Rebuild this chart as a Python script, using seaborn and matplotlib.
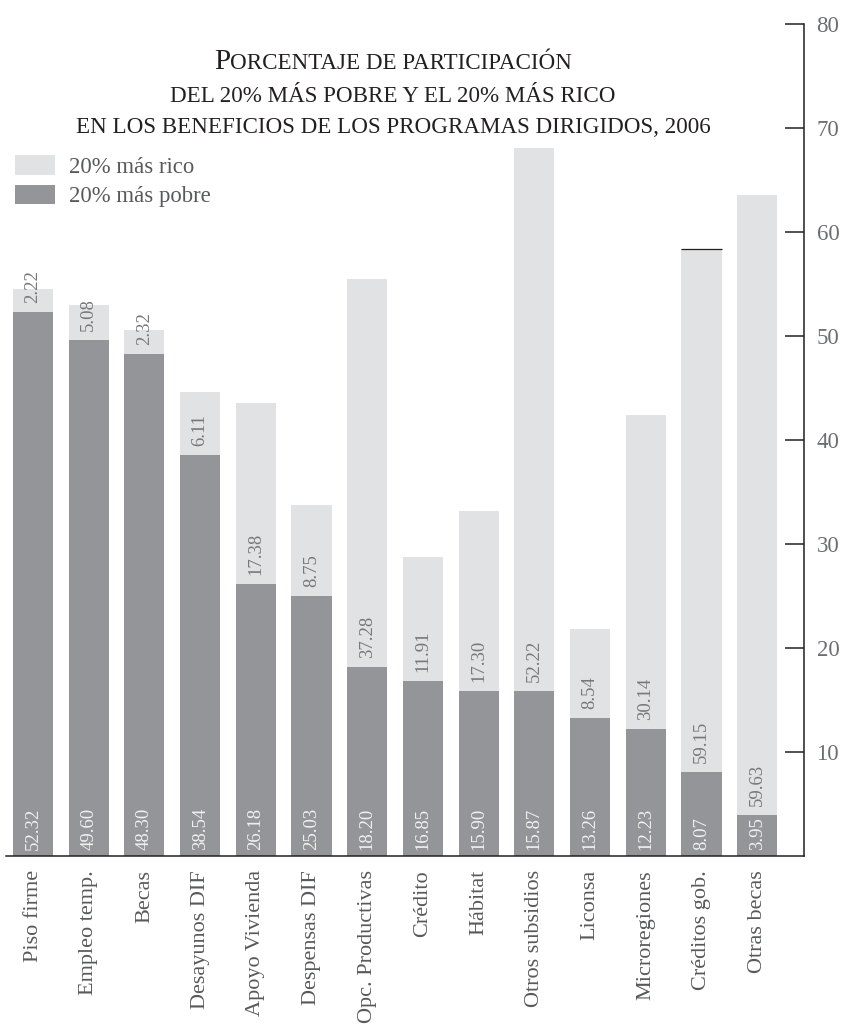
import matplotlib
matplotlib.use("Agg")
import matplotlib.pyplot as plt
import pandas as pd
import seaborn as sns
from matplotlib.patches import Patch

# datos
programas = ["Piso firme", "Empleo temp.", "Becas", "Desayunos DIF", "Apoyo Vivienda",
             "Despensas DIF", "Opc. Productivas", "Crédito", "Hábitat", "Otros subsidios",
             "Liconsa", "Microregiones", "Créditos gob.", "Otras becas"]
pobre = [52.32, 49.60, 48.30, 38.54, 26.18, 25.03, 18.20, 16.85, 15.90, 15.87,
         13.26, 12.23, 8.07, 3.95]
rico = [2.22, 5.08, 2.32, 6.11, 17.38, 8.75, 37.28, 11.91, 17.30, 52.22,
        8.54, 30.14, 59.15, 59.63]
# altura dibujada del tramo "rico" (en algunas barras no coincide con la etiqueta)
rico_barra = [2.22, 3.40, 2.32, 6.11, 17.38, 8.75, 37.28, 11.91, 17.30, 52.22,
              8.54, 30.14, 50.30, 59.63]
marcas_y = [10, 20, 30, 40, 50, 60, 70, 80]

titulo = ["Porcentaje de participación",
          "del 20% más pobre y el 20% más rico",
          "en los beneficios de los programas dirigidos, 2006"]
leyenda = ["20% más rico", "20% más pobre"]

oscuro = "#939598"
claro = "#e1e2e3"
negro = "#231f20"
gris_txt = "#58595b"

sns.set_style("white")
plt.rcParams["font.family"] = ["Liberation Serif", "DejaVu Serif"]

W, H = 849, 1026
fig = plt.figure(figsize=(W / 100, H / 100), dpi=100)
ax = fig.add_axes([6 / W, 170 / H, 798 / W, 832 / H])

df = pd.DataFrame({"programa": programas, "pobre": pobre,
                   "total": [p + r for p, r in zip(pobre, rico_barra)]})

sns.barplot(data=df, x="programa", y="total", color=claro, saturation=1,
            width=0.72, linewidth=0, ax=ax)
sns.barplot(data=df, x="programa", y="pobre", color=oscuro, saturation=1,
            width=0.72, linewidth=0, ax=ax)

# filete oscuro sobre la barra de Créditos gob.
i_cg = programas.index("Créditos gob.")
ax.hlines(df["total"][i_cg], i_cg - 0.36, i_cg + 0.36, color=negro, lw=0.9)

# etiquetas dentro de las barras
for i, (p, r) in enumerate(zip(pobre, rico)):
    ax.annotate(f"{p:.2f}", (i, 0), xytext=(0, 4.3), textcoords="offset points",
                rotation=90, ha="center", va="bottom", fontsize=13.5, color="#f1f1f2")
    ax.annotate(f"{r:.2f}", (i, p), xytext=(0, 6.5), textcoords="offset points",
                rotation=90, ha="center", va="bottom", fontsize=13.5, color="#77787b")

ax.set_xlim(-0.485, 13.84)
ax.set_ylim(0, 80)
ax.set_xlabel("")
ax.set_ylabel("")
ax.set_yticks(marcas_y)
ax.yaxis.tick_right()
ax.tick_params(axis="y", direction="in", length=13.7, width=1.1, color=negro,
               pad=9, labelsize=16.5, labelcolor="#6d6e71")
ax.tick_params(axis="x", length=0, pad=10, labelsize=16, labelcolor=gris_txt,
               labelrotation=90)
for lab in ax.get_xticklabels():
    lab.set_va("top")
    lab.set_ha("center")

for s in ["top", "left"]:
    ax.spines[s].set_visible(False)
for s in ["bottom", "right"]:
    ax.spines[s].set_color(negro)
    ax.spines[s].set_linewidth(1.1)

# leyenda
handles = [Patch(facecolor=claro, edgecolor="none"), Patch(facecolor=oscuro, edgecolor="none")]
fig.legend(handles, leyenda, loc="upper left", bbox_to_anchor=(15 / W, 1 - 155 / H),
           frameon=False, fontsize=16.4, labelcolor=gris_txt, handlelength=1.75,
           handleheight=0.96, handletextpad=0.6, labelspacing=0.3,
           borderpad=0, borderaxespad=0)

# título en versalitas simuladas
renderer = fig.canvas.get_renderer()


def versalitas(texto, base_px, centro_px):
    trozos = []
    for ch in texto:
        grande = ch.isupper()
        if trozos and trozos[-1][1] == grande:
            trozos[-1][0] += ch
        else:
            trozos.append([ch, grande])
    arts = [fig.text(0, 1 - base_px / H, s.upper(), fontsize=21 if g else 16.6,
                     va="baseline", ha="left", color=negro) for s, g in trozos]
    anchos = [t.get_window_extent(renderer).width for t in arts]
    x = centro_px - sum(anchos) / 2
    for t, w in zip(arts, anchos):
        t.set_x(x / W)
        x += w


for linea, base in zip(titulo, [69, 102, 133]):
    versalitas(linea, base, 393)

fig.savefig("out.png", dpi=100)
